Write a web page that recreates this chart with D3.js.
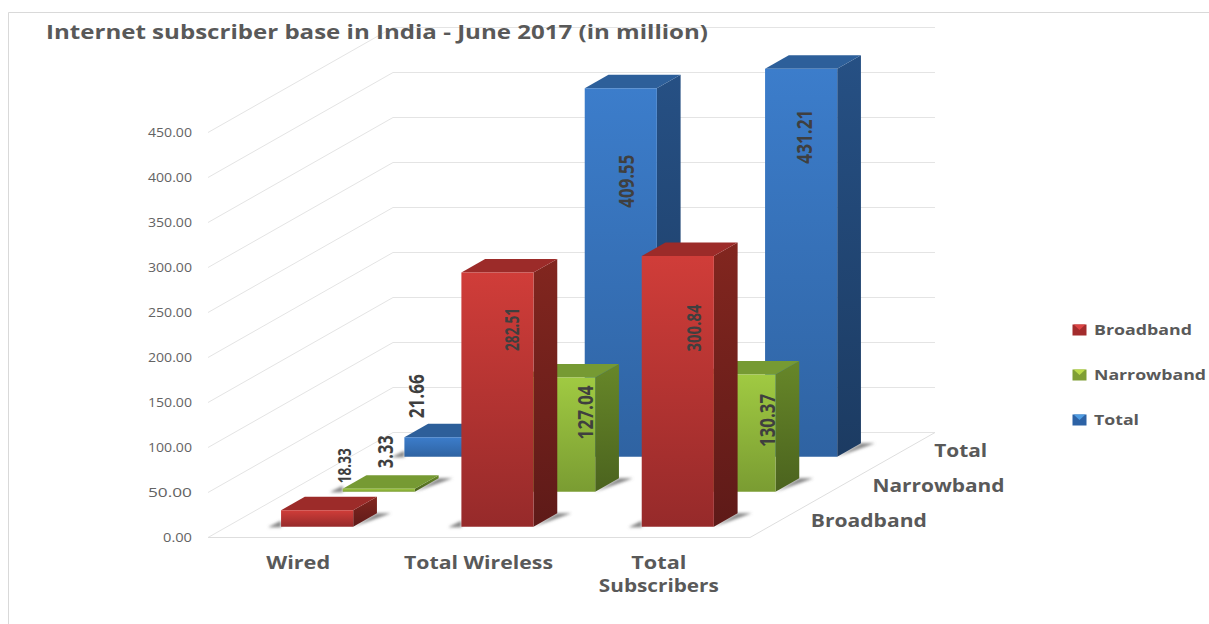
<!DOCTYPE html>
<html>
<head>
<meta charset="utf-8">
<script src="https://cdn.jsdelivr.net/npm/d3@7"></script>
<style>
  html, body { margin: 0; padding: 0; background: #fff; }
  svg { display: block; }
  text { font-family: "Open Sans", sans-serif; }
</style>
</head>
<body>
<svg id="chart" width="1209" height="624"></svg>
<script>
// Subscriber figures, in million
const chartTitle = "Internet subscriber base in India - June 2017 (in million)";
const categories = ["Wired", "Total Wireless", "Total Subscribers"];
const seriesNames = ["Broadband", "Narrowband", "Total"];
const broadband = [18.33, 282.51, 300.84];
const narrowband = [3.33, 127.04, 130.37];
const total = [21.66, 409.55, 431.21];
const valueTicks = [0, 50, 100, 150, 200, 250, 300, 350, 400, 450];

const seriesValues = { Broadband: broadband, Narrowband: narrowband, Total: total };

// Oblique projection: depth 0 is the front of the floor, depth 1 the back wall
const depthX = 185, depthY = -105;
const floorLeft = 208, floorRight = 750;
const x = d3.scaleBand().domain(categories).range([floorLeft, 749]).paddingInner(0.6).paddingOuter(0.3);
const z = d3.scaleBand().domain(seriesNames).range([0, 1]).paddingInner(0.615).paddingOuter(0.3075);
const y = d3.scaleLinear().domain([0, 450]).range([537.5, 132.5]);
const project = (px, depth, value) => [px + depth * depthX, y(value) + depth * depthY];
const pts = list => list.map(p => p.join(",")).join(" ");

const palette = {
  Broadband: { front: ["#d03d39", "#962a2a"], top: "#9c2b29", side: ["#82261f", "#5e1a18"], tip: "#dc4444", base: "#a32c2d" },
  Narrowband: { front: ["#a0ca42", "#7a9c32"], top: "#769a33", side: ["#678729", "#4b631e"], tip: "#bcdb4a", base: "#7f9e34" },
  Total: { front: ["#3c7dcb", "#2f63a2"], top: "#2d5f9a", side: ["#265084", "#1c3b62"], tip: "#4f9ce2", base: "#2d62a5" }
};

const svg = d3.select("#chart");
const defs = svg.append("defs");
const grad = (id, stops) => {
  const g = defs.append("linearGradient").attr("id", id).attr("x1", 0).attr("y1", 0).attr("x2", 0).attr("y2", 1);
  g.append("stop").attr("offset", 0).attr("stop-color", stops[0]);
  g.append("stop").attr("offset", 1).attr("stop-color", stops[1]);
};
seriesNames.forEach(s => {
  grad("front-" + s, palette[s].front);
  grad("side-" + s, palette[s].side);
});
defs.append("filter").attr("id", "soft").attr("x", "-30%").attr("y", "-60%").attr("width", "160%").attr("height", "220%")
  .append("feGaussianBlur").attr("stdDeviation", 1.5);

// Stretches a label to its drawn width
const textWidths = { "Wired": 64, "Total Wireless": 149, "Total": 55, "Subscribers": 120 };
const fit = (sel, width) => sel.attr("textLength", width).attr("lengthAdjust", "spacingAndGlyphs");

// Chart frame, open at the right and bottom
svg.append("path").attr("d", "M8.5,624V12.5H1209").attr("fill", "none").attr("stroke", "#d9d9d9").attr("stroke-width", 1);

// Gridlines run up the side wall and along the back wall
const grid = svg.append("g").attr("fill", "none").attr("stroke", "#e4e4e4").attr("stroke-width", 1);
valueTicks.forEach(v => {
  grid.append("polyline").attr("points", pts([
    project(floorLeft, 0, v), project(floorLeft, 1, v), project(floorRight, 1, v)
  ]));
});
// Floor edges
grid.append("polyline").attr("points", pts([
  project(floorLeft, 0, 0), project(floorRight, 0, 0), project(floorRight, 1, 0)
])).attr("stroke", "#dedede");

// Value axis
const axis = svg.append("g").attr("transform", "translate(200,0.5)")
  .call(d3.axisLeft(y).tickValues(valueTicks).tickFormat(d3.format(".2f")).tickSize(0).tickPadding(8));
axis.select(".domain").remove();
axis.selectAll("text").attr("fill", "#636363").attr("font-size", 12).attr("font-family", '"Open Sans", sans-serif')
  .each(function (d) { fit(d3.select(this), d === 0 ? 29 : 44); });

// Title
fit(svg.append("text").attr("x", 46).attr("y", 39).attr("fill", "#595959")
  .attr("font-size", 19).attr("font-weight", 700).text(chartTitle), 662);

// Category labels; the long one wraps onto a second line
categories.forEach(c => {
  const cx = x(c) + x.bandwidth() / 2;
  const lines = c === "Total Subscribers" ? c.split(" ") : [c];
  lines.forEach((part, i) => {
    fit(svg.append("text").attr("x", cx).attr("y", 569 + i * 23).attr("text-anchor", "middle")
      .attr("fill", "#595959").attr("font-size", 17).attr("font-weight", 700).text(part), textWidths[part]);
  });
});

// Series labels along the floor's right edge
const depthLabelWidth = { Broadband: 116, Narrowband: 132, Total: 53 };
seriesNames.forEach(s => {
  const d = z(s) + z.bandwidth() / 2;
  const [px, py] = project(floorRight, d, 0);
  fit(svg.append("text").attr("x", px + 30).attr("y", py + 7).attr("fill", "#595959")
    .attr("font-size", 17).attr("font-weight", 700).text(s), depthLabelWidth[s]);
});

// Bars, painted back to front
const barsLayer = svg.append("g");
const labelsLayer = svg.append("g");
[...seriesNames].reverse().forEach(s => {
  const d0 = z(s), d1 = z(s) + z.bandwidth();
  seriesValues[s].forEach((value, i) => {
    const c = categories[i];
    const x0 = x(c), x1 = x(c) + x.bandwidth();
    const g = barsLayer.append("g");
    const a = project(x0, d0, 0), b = project(x1, d0, 0), e = project(x1, d1, 0);

    // Contact shadow on the floor
    g.append("polygon").attr("filter", "url(#soft)").attr("fill", "#666").attr("fill-opacity", 0.8)
      .attr("points", pts([[a[0] - 13, a[1] + 0.5], [a[0], a[1] - 6], [a[0], a[1] + 0.5]]));
    g.append("polygon").attr("filter", "url(#soft)").attr("fill", "#666").attr("fill-opacity", 0.8)
      .attr("points", pts([[b[0], b[1]], [e[0], e[1]], [e[0] + 14, e[1]]]));

    // Side, top and front faces
    g.append("polygon").attr("fill", `url(#side-${s})`).attr("points", pts([
      project(x1, d0, 0), project(x1, d1, 0), project(x1, d1, value), project(x1, d0, value)
    ]));
    g.append("polygon").attr("fill", palette[s].top).attr("points", pts([
      project(x0, d0, value), project(x1, d0, value), project(x1, d1, value), project(x0, d1, value)
    ]));
    g.append("polygon").attr("fill", `url(#front-${s})`).attr("points", pts([
      project(x0, d0, 0), project(x1, d0, 0), project(x1, d0, value), project(x0, d0, value)
    ]));
  });
});

// Value labels sit upright along each bar; offsets are measured from the front face's top centre
const labelPlacement = {
  Broadband: [{ dx: 27.5, dy: -44.5, size: 18, len: 35 }, { dx: 15, dy: 57, size: 19, len: 43 }, { dx: 16, dy: 72, size: 19, len: 47 }],
  Narrowband: [{ dx: 6, dy: -37, size: 22, len: 33 }, { dx: 26, dy: 35, size: 22, len: 54 }, { dx: 28, dy: 46, size: 22, len: 53 }],
  Total: [{ dx: -24, dy: -41, size: 22, len: 44 }, { dx: 5, dy: 93, size: 22, len: 53 }, { dx: 3, dy: 68, size: 22, len: 54 }]
};
seriesNames.forEach(s => {
  seriesValues[s].forEach((value, i) => {
    const c = categories[i];
    const place = labelPlacement[s][i];
    const top = project(x(c) + x.bandwidth() / 2, z(s), value);
    fit(labelsLayer.append("text")
      .attr("transform", `translate(${top[0] + place.dx},${top[1] + place.dy}) rotate(-90)`)
      .attr("text-anchor", "middle").attr("dy", "0.36em")
      .attr("fill", "#3f3f3f").attr("font-size", place.size).attr("font-weight", 700)
      .text(value.toFixed(2)), place.len);
  });
});

// Legend
const legendWidth = { Broadband: 98, Narrowband: 112, Total: 45 };
const legendY = d3.scalePoint().domain(seriesNames).range([330, 420]);
seriesNames.forEach(s => {
  const ly = legendY(s);
  const g = svg.append("g");
  g.append("rect").attr("x", 1072.5).attr("y", ly - 5.5).attr("width", 14).attr("height", 11).attr("fill", palette[s].base);
  g.append("polygon").attr("fill", palette[s].tip)
    .attr("points", pts([[1073.5, ly - 5.5], [1085.5, ly - 5.5], [1079.5, ly]]));
  fit(g.append("text").attr("x", 1094).attr("y", ly + 5).attr("fill", "#595959")
    .attr("font-size", 14.5).attr("font-weight", 700).text(s), legendWidth[s]);
});
</script>
</body>
</html>
